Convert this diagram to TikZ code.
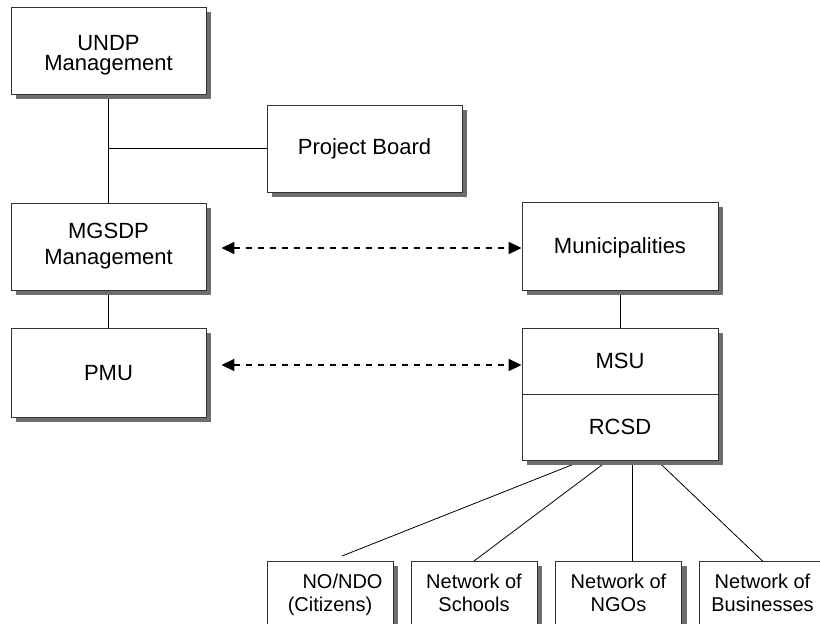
\documentclass[tikz,border=0pt]{standalone}
\usepackage{fontspec}
\setmainfont{Liberation Sans}
\usetikzlibrary{shadows,arrows.meta,backgrounds}
\definecolor{shadowgray}{HTML}{6E6E6E}
\begin{document}
\begin{tikzpicture}[x=1pt,y=1pt,
  box/.style={draw=black!80, line width=0.9pt, fill=white, inner sep=0pt, align=center,
    drop shadow={shadow xshift=5pt, shadow yshift=-5pt, fill=shadowgray, opacity=1},
    font=\fontsize{22}{20}\selectfont},
  bigbox/.style={box, minimum width=195pt, minimum height=87pt},
  onel/.style={text depth=0pt},
  halfbox/.style={box, minimum width=196pt, minimum height=66pt, text depth=0pt},
  smallbox/.style={box, minimum width=126pt, anchor=north, inner ysep=12.4pt,
    font=\fontsize{20}{23}\selectfont},
  link/.style={line width=0.8pt, draw=black},
  dasharrow/.style={line width=1.8pt, draw=black, dash pattern=on 6pt off 6pt,
    {Triangle[length=13pt,width=12pt]}-{Triangle[length=13pt,width=12pt]}}
]
\useasboundingbox (0,0) rectangle (820,-624);
\clip (0,0) rectangle (820,-624);

\node[bigbox] (undp) at (108.5,-50.5) {\rule{0pt}{24pt}UNDP\\Management};
\node[bigbox] (pb) at (364.5,-148.5) {Project Board};
\node[bigbox,font=\fontsize{22}{26}\selectfont] (mgsdp) at (108.5,-246.5) {MGSDP\\Management};
\node[bigbox,onel,minimum width=196pt,minimum height=88pt] (mun) at (620,-246) {Municipalities};
\node[bigbox,onel,minimum height=89pt] (pmu) at (108.5,-372.5) {PMU};
\node[halfbox] (msu) at (620,-361) {MSU};
\node[halfbox] (rcsd) at (620,-427) {RCSD};

\node[smallbox] (n1) at (330,-561) {\hspace*{25pt}NO/NDO\vphantom{(}\\(Citizens)};
\node[smallbox] (n2) at (474,-561) {Network of\vphantom{(}\\Schools\vphantom{(}};
\node[smallbox] (n3) at (618.5,-561) {Network of\vphantom{(}\\NGOs\vphantom{(}};
\node[smallbox] (n4) at (762.5,-561) {Network of\vphantom{(}\\Businesses\vphantom{(}};

\begin{scope}[on background layer]
\draw[link] (undp.south) -- (mgsdp.north);
\draw[link] (pb.west) -- (pb.west -| undp.south);
\draw[link] (mgsdp.south) -- (pmu.north);
\draw[link] (mun.south) -- (msu.north);
\draw[link] ([xshift=-37pt]rcsd.south) -- ([xshift=12pt,yshift=5pt]n1.north);
\draw[link] ([xshift=-12pt]rcsd.south) -- (n2.north);
\draw[link] ([xshift=12pt]rcsd.south) -- ([xshift=13.5pt]n3.north);
\draw[link] ([xshift=37pt]rcsd.south) -- (n4.north);
\coordinate (a1) at ([xshift=15pt,yshift=-1.5pt]mgsdp.east);
\draw[dasharrow] (a1) -- (a1 -| mun.west);
\coordinate (a2) at ([xshift=15pt,yshift=7.5pt]pmu.east);
\draw[dasharrow] (a2) -- (a2 -| msu.west);
\end{scope}
\end{tikzpicture}
\end{document}
